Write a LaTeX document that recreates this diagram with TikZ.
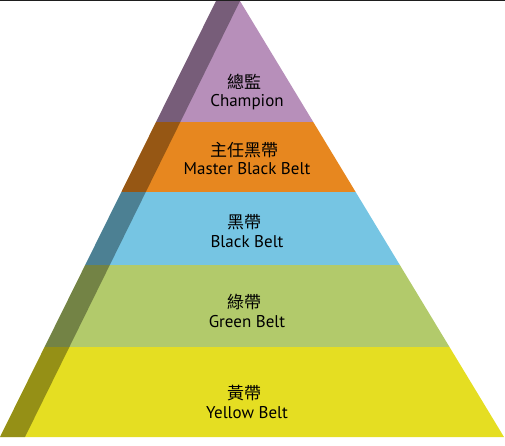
\documentclass[tikz,border=0pt]{standalone}
\usepackage{fontspec}
\setmainfont{PT Sans}
\newfontfamily\cjk{Noto Sans CJK TC}
\usetikzlibrary{positioning}
\tikzstyle{pyramid} = [x = 1pt, y = -1pt]
\definecolor{championColor}{RGB}{183,143,186}
\definecolor{masterColor}{RGB}{231,135,31}
\definecolor{blackBeltColor}{RGB}{118,197,227}
\definecolor{greenBeltColor}{RGB}{178,202,107}
\definecolor{yellowBeltColor}{RGB}{229,222,34}
\definecolor{edgeColor}{RGB}{30,30,30}
\tikzstyle{topLine} = [color=edgeColor, line width=1.2pt]
\tikzstyle{shadeStyle} = [fill=black, opacity=0.35]
\tikzstyle{zhText} = [font=\cjk\fontsize{17}{17}\selectfont, anchor=base, inner sep=0]
\tikzstyle{enText} = [font=\fontsize{17}{17}\selectfont, anchor=base, inner sep=0]
\newcommand{\beltBand}[3]{\fill [#1] (0,#2) rectangle (505,#3);}
\newcommand{\beltLabel}[5]{
  \node [zhText] (#1Zh) at (244,#2) {#4};
  \node [enText] (#1En) at (247,#3) {#5};
}

\begin{document}
\begin{tikzpicture}[pyramid]
  \useasboundingbox (0,0) rectangle (505,445);
  \draw [topLine] (0,0.6) -- (505,0.6);

  \begin{scope}
    \clip (216,1) -- (240,1) -- (504,437) -- (0,437) -- cycle;
    \beltBand{championColor}{0}{122.2}
    \beltBand{masterColor}{122}{192.2}
    \beltBand{blackBeltColor}{192}{265.2}
    \beltBand{greenBeltColor}{265}{347.2}
    \beltBand{yellowBeltColor}{347}{440}
    \fill [shadeStyle] (216,1) -- (240,1) -- (25,437) -- (0,437) -- cycle;
  \end{scope}

  \beltLabel{champion}{88}{106}{總監}{Champion}
  \beltLabel{master}{156}{174}{主任黑帶}{Master Black Belt}
  \beltLabel{black}{228.5}{247.7}{黑帶}{Black Belt}
  \beltLabel{green}{308}{327.7}{綠帶}{Green Belt}
  \beltLabel{yellow}{399.5}{418}{黃帶}{Yellow Belt}
\end{tikzpicture}
\end{document}
